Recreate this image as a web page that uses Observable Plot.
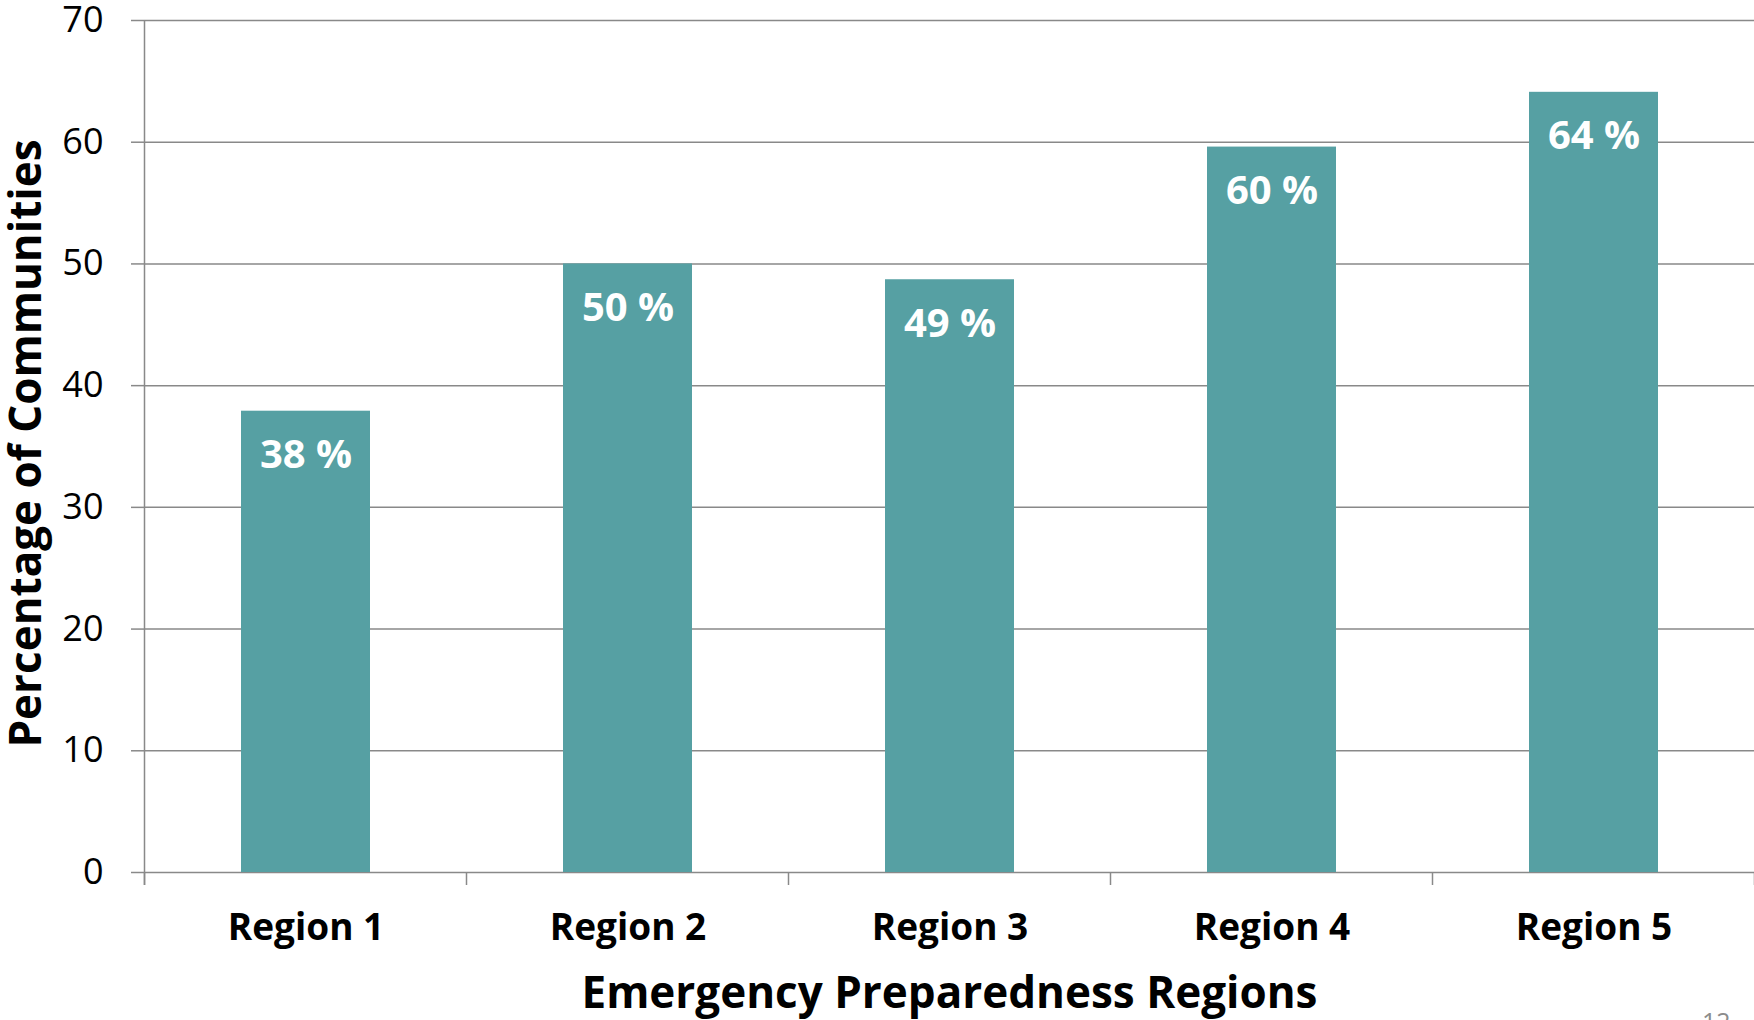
<!DOCTYPE html>
<html>
<head>
<meta charset="utf-8">
<script src="https://cdn.jsdelivr.net/npm/d3@7"></script>
<script src="https://cdn.jsdelivr.net/npm/@observablehq/plot@0.6"></script>
<style>
  html, body { margin: 0; padding: 0; background: #fff; overflow: hidden; }
  #chart svg { display: block; overflow: visible; }
</style>
</head>
<body>
<div id="chart"></div>
<script>
const regions = ["Region 1", "Region 2", "Region 3", "Region 4", "Region 5"];
const percentages = [37.9, 50.0, 48.7, 59.6, 64.1];
const valueLabels = ["38 %", "50 %", "49 %", "60 %", "64 %"];
const yTicks = [0, 10, 20, 30, 40, 50, 60, 70];
const xTitle = "Emergency Preparedness Regions";
const yTitle = "Percentage of Communities";
const pageNumber = "12";

const data = regions.map((r, i) => ({region: r, value: percentages[i], label: valueLabels[i]}));

const GRID = "#898989";
const BAR = "#56A0A3";
const FONT = "'Open Sans', 'Noto Sans', sans-serif";

// category boundary ticks + left axis line, positioned from the x band scale
function categoryTicks(index, scales, values, dims) {
  const x = scales.x;
  const bw = typeof x.bandwidth === "function" ? x.bandwidth() : 0;
  const step = typeof x.step === "function" ? x.step() : (x(regions[1]) - x(regions[0]));
  const centers = regions.map(r => x(r) + bw / 2);
  const bounds = centers.map(c => c - step / 2).concat([centers[centers.length - 1] + step / 2]);
  const y0 = dims.height - dims.marginBottom;
  const g = d3.create("svg:g").attr("stroke", GRID).attr("stroke-width", 1.5);
  g.append("line")
    .attr("x1", bounds[0]).attr("x2", bounds[0])
    .attr("y1", dims.marginTop).attr("y2", y0 + 13);
  g.selectAll("line.t").data(bounds).join("line").attr("class", "t")
    .attr("x1", d => d).attr("x2", d => d)
    .attr("y1", y0).attr("y2", y0 + 13);
  return g.node();
}

const plot = Plot.plot({
  width: 1754,
  height: 1020,
  marginTop: 20,
  marginLeft: 144,
  marginRight: 0,
  marginBottom: 148,
  style: {fontFamily: FONT, background: "#fff", color: "#000"},
  x: {domain: regions, paddingInner: 0.6, paddingOuter: 0.3, label: null},
  y: {domain: [0, 70], label: null},
  marks: [
    Plot.gridY(yTicks, {stroke: GRID, strokeOpacity: 1, strokeWidth: 1.5}),
    Plot.axisY(yTicks, {tickSize: 13, tickPadding: 28, fontSize: 36, stroke: GRID, strokeWidth: 1.5, fill: "#000", label: null, tickFormat: d => String(d)}),
    Plot.axisX({tickSize: 0, tickPadding: 41, fontSize: 37, fontWeight: "bold", fill: "#000", label: null}),
    Plot.barY(data, {x: "region", y: "value", fill: BAR}),
    categoryTicks,
    Plot.text(data, {x: "region", y: "value", text: "label", dy: 57, lineAnchor: "bottom", fill: "#fff", fontSize: 40, fontWeight: "bold"}),
    Plot.text([xTitle], {frameAnchor: "bottom", dy: 135, lineAnchor: "bottom", fontSize: 44, fontWeight: "bold", fill: "#000"}),
    Plot.text([yTitle], {frameAnchor: "left", dx: -118, dy: -3, rotate: -90, textAnchor: "middle", lineAnchor: "middle", fontSize: 44, fontWeight: "bold", fill: "#000"}),
    Plot.text([pageNumber], {frameAnchor: "bottom-right", dx: -24, dy: 158, lineAnchor: "bottom", fontSize: 25, fill: "#8c8c8c"})
  ]
});

document.getElementById("chart").appendChild(plot);
</script>
</body>
</html>
